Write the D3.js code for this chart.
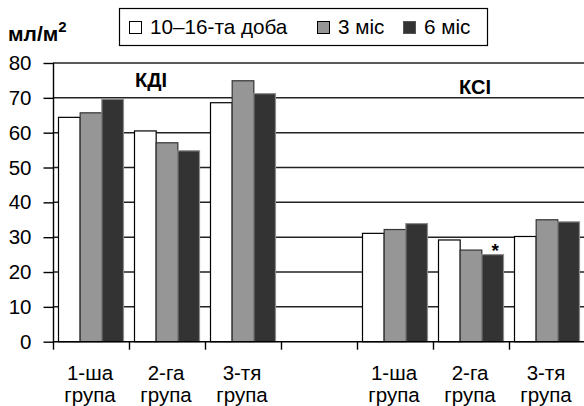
<!DOCTYPE html>
<html>
<head>
<meta charset="utf-8">
<script src="https://cdn.jsdelivr.net/npm/d3@7"></script>
<style>
  html, body { margin: 0; padding: 0; background: #fff; }
  svg { display: block; font-family: "Liberation Sans", Arial, sans-serif; }
</style>
</head>
<body>
<svg id="chart" width="584" height="406"></svg>
<script>
// Categories along the x axis: three groups for КДІ, a spacer slot, three groups for КСІ
const categories = ["k1", "k2", "k3", "gap", "s1", "s2", "s3"];
const categoryLabels = [["1-ша", "група"], ["2-га", "група"], ["3-тя", "група"], null,
                        ["1-ша", "група"], ["2-га", "група"], ["3-тя", "група"]];
const seriesNames = ["10–16-та доба", "3 міс", "6 міс"];
// Values per series, in category order (null for the spacer slot)
const day10_16 = [64.4, 60.5, 68.6, null, 31.1, 29.2, 30.2];
const month3   = [65.7, 57.1, 74.9, null, 32.2, 26.3, 35.0];
const month6   = [69.6, 54.8, 71.2, null, 33.9, 25.0, 34.4];
const yTicks = [0, 10, 20, 30, 40, 50, 60, 70, 80];
const sectionTitles = ["КДІ", "КСІ"];
const starMarks = [{ category: "s2", series: 2, text: "*" }];

const seriesValues = [day10_16, month3, month6];
const fills = ["#ffffff", "#969696", "#333333"];
const strokes = ["#000000", "#333333", "#8c8c8c"];

const svg = d3.select("#chart");

const x = d3.scaleBand().domain(categories).range([53, 585]).padding(0);
const x1 = d3.scaleBand().domain([0, 1, 2]).range([5.5, 70.5]).padding(0);
const y = d3.scaleLinear().domain([0, 80]).range([341.7, 63]);

// Horizontal gridlines
svg.append("g").selectAll("line")
  .data(yTicks.filter(d => d > 0))
  .join("line")
  .attr("x1", 53).attr("x2", 584)
  .attr("y1", d => y(d))
  .attr("y2", d => y(d))
  .attr("stroke", "#222").attr("stroke-width", 1.5);

// Bars
const rows = [];
categories.forEach((c, i) => {
  seriesValues.forEach((vals, s) => {
    if (vals[i] != null) rows.push({ c, s, v: vals[i] });
  });
});
svg.append("g").selectAll("rect")
  .data(rows)
  .join("rect")
  .attr("x", d => x(d.c) + x1(d.s))
  .attr("width", x1.bandwidth())
  .attr("y", d => y(d.v))
  .attr("height", d => y(0) - y(d.v))
  .attr("fill", d => fills[d.s])
  .attr("stroke", d => strokes[d.s])
  .attr("stroke-width", 1.2);

// Significance marks
svg.append("g").selectAll("text")
  .data(starMarks)
  .join("text")
  .attr("x", d => x(d.category) + x1(d.series) + x1.bandwidth() / 2 + 2.5)
  .attr("y", d => y(seriesValues[d.series][categories.indexOf(d.category)]) + 2)
  .attr("text-anchor", "middle")
  .attr("font-size", 19)
  .attr("font-weight", "bold")
  .text(d => d.text);

// Y axis
const yAxis = d3.axisLeft(y).tickValues(yTicks).tickSize(10).tickPadding(12);
const gy = svg.append("g").attr("transform", "translate(53.5,0)").call(yAxis);
gy.select(".domain").attr("d", `M0,${y(80)}V${y(0)}`).attr("stroke", "#000").attr("stroke-width", 1.4);
gy.selectAll(".tick line").attr("stroke", "#000").attr("stroke-width", 1.4);
gy.selectAll(".tick text").attr("font-size", 20.5).attr("fill", "#000")
  .attr("font-family", "Liberation Sans, Arial, sans-serif");

// X axis line with ticks at band boundaries
const gx = svg.append("g");
gx.append("line").attr("x1", 53).attr("x2", 584)
  .attr("y1", y(0)).attr("y2", y(0))
  .attr("stroke", "#000").attr("stroke-width", 1.5);
gx.selectAll("line.tk")
  .data(categories)
  .join("line").attr("class", "tk")
  .attr("x1", d => Math.round(x(d)) + 0.5).attr("x2", d => Math.round(x(d)) + 0.5)
  .attr("y1", y(0)).attr("y2", y(0) + 8)
  .attr("stroke", "#000").attr("stroke-width", 1.4);

// Category labels (two lines)
const lbl = svg.append("g").selectAll("text")
  .data(categories.map((c, i) => ({ c, lines: categoryLabels[i] })).filter(d => d.lines))
  .join("text")
  .attr("text-anchor", "middle")
  .attr("font-size", 20.5)
  .attr("fill", "#000");
lbl.selectAll("tspan")
  .data(d => d.lines.map((t, k) => ({ t, k, c: d.c })))
  .join("tspan")
  .attr("x", d => x(d.c) + x.bandwidth() / 2 - 1)
  .attr("y", d => 380 + d.k * 22)
  .text(d => d.t);

// Section titles
svg.append("text").attr("x", 151).attr("y", 87).attr("text-anchor", "middle")
  .attr("font-size", 20).attr("font-weight", "bold").text(sectionTitles[0]);
svg.append("text").attr("x", 475).attr("y", 94).attr("text-anchor", "middle")
  .attr("font-size", 20).attr("font-weight", "bold").text(sectionTitles[1]);

// Y axis unit
const unit = svg.append("text").attr("x", 8).attr("y", 41)
  .attr("font-size", 21).attr("font-weight", "bold");
unit.append("tspan").text("мл/м");
unit.append("tspan").attr("dy", -9).attr("font-size", 15).text("2");

// Legend
const legend = svg.append("g");
legend.append("rect").attr("x", 119.5).attr("y", 8.5).attr("width", 368).attr("height", 37)
  .attr("fill", "#fff").attr("stroke", "#000").attr("stroke-width", 1.2);
const legendX = [129, 317, 403];
const legendItems = legend.selectAll("g.item")
  .data(seriesNames)
  .join("g").attr("class", "item")
  .attr("transform", (d, i) => `translate(${legendX[i]},0)`);
legendItems.append("rect")
  .attr("x", 0.5).attr("y", 21.5).attr("width", 12).attr("height", 12)
  .attr("fill", (d, i) => fills[i])
  .attr("stroke", (d, i) => i === 2 ? "#555" : "#000")
  .attr("stroke-width", 1);
legendItems.append("text")
  .attr("x", 21)
  .attr("y", 34)
  .attr("font-size", 20.7)
  .text(d => d);
</script>
</body>
</html>
